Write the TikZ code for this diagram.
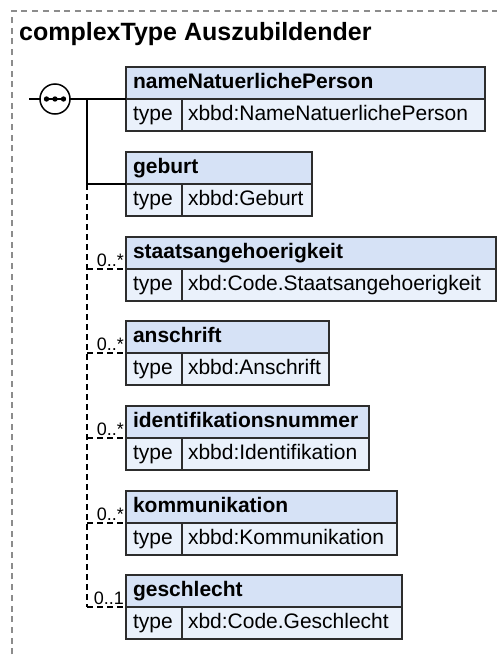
\documentclass[tikz,border=0pt]{standalone}
\usepackage{fontspec}
\setmainfont{Liberation Sans}
\definecolor{hdrfill}{RGB}{214,226,246}
\definecolor{rowfill}{RGB}{234,241,251}
\definecolor{boxline}{RGB}{45,45,45}
\definecolor{frameline}{RGB}{140,140,140}
\tikzset{
  cellbase/.style={draw=boxline, line width=1.8pt, minimum height=32pt, inner ysep=0pt, anchor=north west, align=left, outer sep=0pt, text height=15pt, text depth=4pt},
  hdr/.style={cellbase, fill=hdrfill, inner xsep=7pt, font=\fontsize{21}{24}\selectfont\bfseries},
  tcell/.style={cellbase, fill=rowfill, inner xsep=7pt, text width=42pt, font=\fontsize{21}{24}\selectfont},
  vcell/.style={cellbase, fill=rowfill, inner xsep=6pt, font=\fontsize{21}{24}\selectfont},
  conn/.style={line width=1.5pt, black},
  optconn/.style={conn, dash pattern=on 6pt off 4pt},
  mult/.style={anchor=base east, inner sep=0pt, font=\fontsize{18}{20}\selectfont},
  frame/.style={draw=frameline, line width=1.3pt, dash pattern=on 6pt off 4.7pt},
  seqcirc/.style={circle, draw=black, line width=1.5pt, fill=white, minimum size=30pt, inner sep=0pt, outer sep=0pt},
  titlefont/.style={font=\fontsize{25}{30}\selectfont\bfseries}
}
\newcommand\elembox[5]{%
  \pgfmathsetmacro\hwidth{#3-14}%
  \pgfmathsetmacro\vwidth{#3-56-12}%
  \node[hdr, text width=\hwidth pt] (h#1) at (126,#2) {#4};
  \node[tcell] (t#1) at (h#1.south west) {type};
  \node[vcell, text width=\vwidth pt] (v#1) at (t#1.north east) {#5};
}
\begin{document}
\begin{tikzpicture}[x=1pt,y=-1pt]
\useasboundingbox (0,0) rectangle (497,659);
\draw[frame] (12,665) -- (12,11) -- (505,11);
\node[titlefont, anchor=base west, inner sep=0pt] (title) at (19,40) {complexType Auszubildender};

\elembox{1}{67}{359}{nameNatuerlichePerson}{xbbd:NameNatuerlichePerson}
\elembox{2}{152}{186}{geburt}{xbbd:Geburt}
\elembox{3}{237}{370}{staatsangehoerigkeit}{xbd:Code.Staatsangehoerigkeit}
\elembox{4}{321}{203}{anschrift}{xbbd:Anschrift}
\elembox{5}{406}{243}{identifikationsnummer}{xbbd:Identifikation}
\elembox{6}{491}{271}{kommunikation}{xbbd:Kommunikation}
\elembox{7}{575}{276}{geschlecht}{xbd:Code.Geschlecht}

\coordinate (stub) at (29,99);
\node[seqcirc] (seq) at (55,99) {};
\coordinate (j1) at (87,99);
\draw[conn] (stub) -- (seq.west);
\draw[conn] (seq.east) -- (h1.south west);
\draw[line width=1.5pt] ([xshift=-8.5pt]seq.center) -- ([xshift=8.5pt]seq.center);
\fill ([xshift=-8.5pt]seq.center) circle (2.7);
\fill (seq.center) circle (2.7);
\fill ([xshift=8.5pt]seq.center) circle (2.7);

\draw[conn] (j1) -- (j1 |- h2.south west) -- (h2.south west);
\draw[optconn] (j1 |- h2.south west) -- (j1 |- h7.south west);
\foreach \i in {3,...,7}{
  \draw[optconn] (j1 |- h\i.south west) -- (h\i.south west);
}
\node[mult] (m3) at ([xshift=-2pt,yshift=3pt]h3.south west) {0..*};
\node[mult] (m4) at ([xshift=-2pt,yshift=3pt]h4.south west) {0..*};
\node[mult] (m5) at ([xshift=-2pt,yshift=3pt]h5.south west) {0..*};
\node[mult] (m6) at ([xshift=-2pt,yshift=3pt]h6.south west) {0..*};
\node[mult] (m7) at ([xshift=-2pt,yshift=3pt]h7.south west) {0..1};
\end{tikzpicture}
\end{document}
